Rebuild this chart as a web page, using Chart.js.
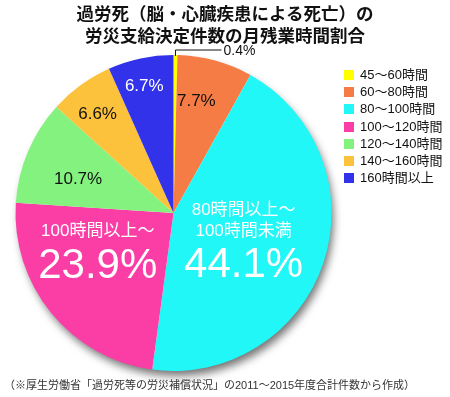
<!DOCTYPE html>
<html lang="ja">
<head>
<meta charset="utf-8">
<script src="https://cdn.jsdelivr.net/npm/chart.js@4.4.1/dist/chart.umd.min.js"></script>
<style>
  html, body { margin: 0; padding: 0; background: #fff; }
  #wrap { position: relative; width: 450px; height: 397px; overflow: hidden; }
  #grafico { position: absolute; left: 0; top: 0; }
  .titulo {
    position: absolute; left: 0; top: 2px; width: 450px; text-align: center;
    font-family: "Noto Sans CJK JP", sans-serif; font-weight: 700;
    font-size: 17.5px; line-height: 22px; color: #111;
  }
  .nota {
    position: absolute; left: 4px; top: 376px; white-space: nowrap;
    font-family: "Liberation Sans", "Noto Sans CJK JP", sans-serif;
    font-size: 11px; color: #333;
  }
  #legenda {
    position: absolute; left: 344px; top: 66px; margin: 0; padding: 0; list-style: none;
    font-family: "Liberation Sans", "Noto Sans CJK JP", sans-serif; font-size: 13px; color: #111;
  }
  #legenda li { height: 17.2px; line-height: 17.2px; white-space: nowrap; }
  #legenda span { display: inline-block; width: 10px; height: 10px; margin-right: 6px; vertical-align: -1px; }
</style>
</head>
<body>
<div id="wrap">
  <canvas id="grafico" width="450" height="397"></canvas>
  <div class="titulo">過労死（脳・心臓疾患による死亡）の<br>労災支給決定件数の月残業時間割合</div>
  <ul id="legenda"></ul>
  <div class="nota">（※厚生労働省「過労死等の労災補償状況」の2011～2015年度合計件数から作成）</div>
</div>
<script>
// dados (%)
const categorias = ['45～60時間', '60～80時間', '80～100時間', '100～120時間', '120～140時間', '140～160時間', '160時間以上'];
const percentagens = [0.4, 7.7, 44.1, 23.9, 10.7, 6.6, 6.7];
const rotulosFatia = ['0.4%', '7.7%', '44.1%', '23.9%', '10.7%', '6.6%', '6.7%'];
const cabecalhos = [[], [], ['80時間以上～', '100時間未満'], ['100時間以上～'], [], [], []];

const cores = ['#ffff00', '#f57d45', '#22f7f7', '#fb3ea6', '#84f27f', '#fcc23b', '#3232ea'];
const corTexto = ['#111', '#111', '#fff', '#fff', '#111', '#111', '#fff'];
// posição do rótulo: fração do raio + desvio angular (graus)
const posRotulo = [null, { r: 0.72, da: -3.7 }, { r: 0.556, da: 18.6 }, { r: 0.586, da: 4.2 },
                   { r: 0.64, da: -3.6 }, { r: 0.79, da: -1.5 }, { r: 0.82, da: -1 }];
const grande = [false, false, true, true, false, false, false];

const FONTE = '"Liberation Sans", "Noto Sans CJK JP", sans-serif';

// legenda em HTML
const ul = document.getElementById('legenda');
categorias.forEach((c, i) => {
  const li = document.createElement('li');
  li.innerHTML = `<span style="background:${cores[i]}"></span>${c}`;
  ul.appendChild(li);
});

// sombra atrás da pizza
const sombra = {
  id: 'sombra',
  beforeDatasetsDraw(chart) {
    const arc = chart.getDatasetMeta(0).data[0];
    if (!arc) return;
    const ctx = chart.ctx;
    ctx.save();
    ctx.shadowColor = 'rgba(0,0,0,0.55)';
    ctx.shadowBlur = 9;
    ctx.shadowOffsetX = 3;
    ctx.shadowOffsetY = 6;
    ctx.fillStyle = '#fff';
    ctx.beginPath();
    ctx.arc(arc.x, arc.y, arc.outerRadius - 1, 0, Math.PI * 2);
    ctx.fill();
    ctx.restore();
  },
};

// rótulos dentro das fatias + linha do 0.4%
const rotulos = {
  id: 'rotulos',
  afterDatasetsDraw(chart) {
    const ctx = chart.ctx;
    const arcs = chart.getDatasetMeta(0).data;
    ctx.save();
    ctx.textAlign = 'center';
    ctx.textBaseline = 'middle';
    arcs.forEach((a, i) => {
      const meio = (a.startAngle + a.endAngle) / 2;
      if (i === 0) {
        const px = a.x + Math.cos(meio) * a.outerRadius;
        const py = a.y + Math.sin(meio) * a.outerRadius;
        ctx.strokeStyle = '#111';
        ctx.lineWidth = 1;
        ctx.beginPath();
        ctx.moveTo(px, py + 1);
        ctx.lineTo(px, py - 5);
        ctx.lineTo(a.x + 48, py - 5);
        ctx.stroke();
        ctx.fillStyle = '#111';
        ctx.textAlign = 'left';
        ctx.font = `14px ${FONTE}`;
        ctx.fillText(rotulosFatia[i], a.x + 50, py - 4);
        ctx.textAlign = 'center';
        return;
      }
      const p = posRotulo[i];
      const ang = meio + p.da * Math.PI / 180;
      const x = a.x + Math.cos(ang) * a.outerRadius * p.r;
      const y = a.y + Math.sin(ang) * a.outerRadius * p.r;
      ctx.fillStyle = corTexto[i];
      ctx.font = grande[i] ? `42px ${FONTE}` : `17px ${FONTE}`;
      ctx.fillText(rotulosFatia[i], x, y);
      const linhas = cabecalhos[i];
      ctx.font = `17px ${FONTE}`;
      linhas.forEach((t, k) => {
        ctx.fillText(t, x, y - 35 - (linhas.length - 1 - k) * 21);
      });
    });
    ctx.restore();
  },
};

new Chart(document.getElementById('grafico'), {
  type: 'pie',
  data: {
    labels: categorias,
    datasets: [{
      data: percentagens,
      backgroundColor: cores,
      borderWidth: 0,
    }],
  },
  options: {
    responsive: false,
    animation: false,
    layout: { padding: { left: 15.5, right: 118.5, top: 55, bottom: 26 } },
    plugins: {
      legend: { display: false },
      tooltip: { enabled: false },
    },
  },
  plugins: [sombra, rotulos],
});
</script>
</body>
</html>
